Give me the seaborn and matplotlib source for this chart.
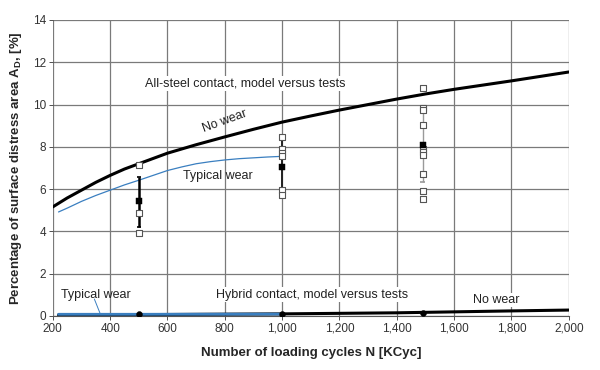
import matplotlib
matplotlib.use("Agg")
import matplotlib.pyplot as plt
import matplotlib.ticker as mticker
import seaborn as sns
import pandas as pd

# ---- data ----
cycles_curve = [200, 250, 300, 350, 400, 450, 500, 600, 700, 800, 900, 1000, 1100, 1200,
                1300, 1400, 1500, 1600, 1700, 1800, 1900, 2000]
steel_no_wear = [5.16, 5.58, 5.95, 6.32, 6.65, 6.95, 7.2, 7.7, 8.1, 8.47, 8.83, 9.17, 9.46,
                 9.74, 10.0, 10.26, 10.5, 10.72, 10.92, 11.12, 11.33, 11.54]

cycles_wear = [220, 250, 300, 350, 400, 450, 500, 550, 600, 650, 700, 750, 800, 850, 900, 950, 1000]
steel_typical_wear = [4.92, 5.1, 5.42, 5.7, 5.95, 6.2, 6.42, 6.65, 6.88, 7.05, 7.2, 7.3, 7.38,
                      7.44, 7.48, 7.52, 7.55]

cycles_hybrid = [220, 600, 1000, 1400, 1800, 2000]
hybrid_no_wear = [0.05, 0.07, 0.1, 0.15, 0.24, 0.28]
cycles_hybrid_wear = [220, 500, 1000]
hybrid_typical_wear = [0.08, 0.08, 0.09]

test_500 = [7.15, 4.88, 3.93]
test_1000 = [8.45, 7.9, 7.7, 7.57, 5.96, 5.72]
test_1490 = [10.8, 9.84, 9.74, 9.03, 7.9, 7.76, 7.6, 6.72, 5.91, 5.53]
test_cycles = [500, 1000, 1490]
test_means = [5.45, 7.05, 8.09]
err_low = [4.2, 5.9, 6.34]
err_high = [6.58, 8.3, 9.8]
hybrid_test_means = [0.1, 0.1, 0.15]

x_ticks = [200, 400, 600, 800, 1000, 1200, 1400, 1600, 1800, 2000]
y_ticks = [0, 2, 4, 6, 8, 10, 12, 14]

# ---- figure ----
sns.set_theme(style="white")
plt.rcParams['font.family'] = ['Liberation Sans', 'DejaVu Sans']

fig = plt.figure(figsize=(6, 3.7), dpi=100)
ax = fig.add_axes([0.088, 0.146, 0.86, 0.8])

BLUE = "#3a7fc0"

# steel curves
df_nw = pd.DataFrame({"N": cycles_curve, "A": steel_no_wear})
sns.lineplot(data=df_nw, x="N", y="A", ax=ax, color="black", lw=2.2, zorder=4)
df_tw = pd.DataFrame({"N": cycles_wear, "A": steel_typical_wear})
sns.lineplot(data=df_tw, x="N", y="A", ax=ax, color=BLUE, lw=0.9, zorder=4)

# hybrid curves
df_hn = pd.DataFrame({"N": cycles_hybrid, "A": hybrid_no_wear})
sns.lineplot(data=df_hn, x="N", y="A", ax=ax, color="black", lw=2.2, zorder=4)
df_hw = pd.DataFrame({"N": cycles_hybrid_wear, "A": hybrid_typical_wear})
sns.lineplot(data=df_hw, x="N", y="A", ax=ax, color=BLUE, lw=2.0, zorder=5)

# error bars
bar_colors = ["black", "#222222", "#9a9a9a"]
bar_widths = [1.8, 1.4, 1.0]
for n, lo, hi, c, w in zip(test_cycles, err_low, err_high, bar_colors, bar_widths):
    ax.vlines(n, lo, hi, colors=c, lw=w, zorder=5)
    ax.hlines([lo, hi], n - 8, n + 8, colors=c, lw=1.2, zorder=5)

# test points
tp = pd.DataFrame({
    "N": [500] * len(test_500) + [1000] * len(test_1000) + [1490] * len(test_1490),
    "A": test_500 + test_1000 + test_1490,
})
sns.scatterplot(data=tp, x="N", y="A", ax=ax, marker="s", s=13, facecolor="white",
                edgecolor="#555555", linewidth=0.8, zorder=6)
tm = pd.DataFrame({"N": test_cycles, "A": test_means})
sns.scatterplot(data=tm, x="N", y="A", ax=ax, marker="s", s=16, color="black",
                edgecolor="black", zorder=7)
hm = pd.DataFrame({"N": test_cycles, "A": hybrid_test_means})
sns.scatterplot(data=hm, x="N", y="A", ax=ax, marker="o", s=18, color="black",
                edgecolor="black", zorder=7)

# axes
ax.set_xlim(200, 2000)
ax.set_ylim(0, 14)
ax.set_xticks(x_ticks)
ax.set_yticks(y_ticks)
ax.xaxis.set_major_formatter(mticker.FuncFormatter(lambda v, p: f"{int(v):,}"))
ax.grid(True, color="#7a7a7a", lw=0.9)
for s in ["top", "right", "left"]:
    ax.spines[s].set_visible(False)
ax.spines["bottom"].set_color("#555555")
ax.spines["bottom"].set_linewidth(0.8)
ax.tick_params(axis="both", labelsize=8.5, colors="#333333", length=3, width=0.6,
               direction="out", bottom=True, left=True, pad=2)
ax.set_xlabel("Number of loading cycles N [KCyc]", fontsize=9.5, fontweight="bold", labelpad=9)
ax.set_ylabel("Percentage of surface distress area A$_{\\mathregular{D}}$, [%]", fontsize=9.5,
              fontweight="bold", labelpad=6)

bbox = dict(facecolor="white", edgecolor="none", pad=1.0)
ax.text(870, 11.0, "All-steel contact, model versus tests", fontsize=9, ha="center",
        va="center", color="#222222", bbox=bbox, zorder=8)
ax.text(800, 9.2, "No wear", fontsize=9, ha="center", va="center", rotation=20,
        color="#222222", zorder=8)
ax.text(775, 6.6, "Typical wear", fontsize=9, ha="center", va="center", color="#222222",
        zorder=8)
ax.text(350, 1.0, "Typical wear", fontsize=9, ha="center", va="center", color="#222222",
        zorder=8)
ax.plot([345, 365], [0.8, 0.12], color=BLUE, lw=0.7, zorder=8)
ax.text(1105, 1.0, "Hybrid contact, model versus tests", fontsize=9, ha="center",
        va="center", color="#222222", bbox=bbox, zorder=8)
ax.text(1748, 0.75, "No wear", fontsize=9, ha="center", va="center", color="#222222",
        bbox=bbox, zorder=8)

fig.savefig("out.png", dpi=100)
